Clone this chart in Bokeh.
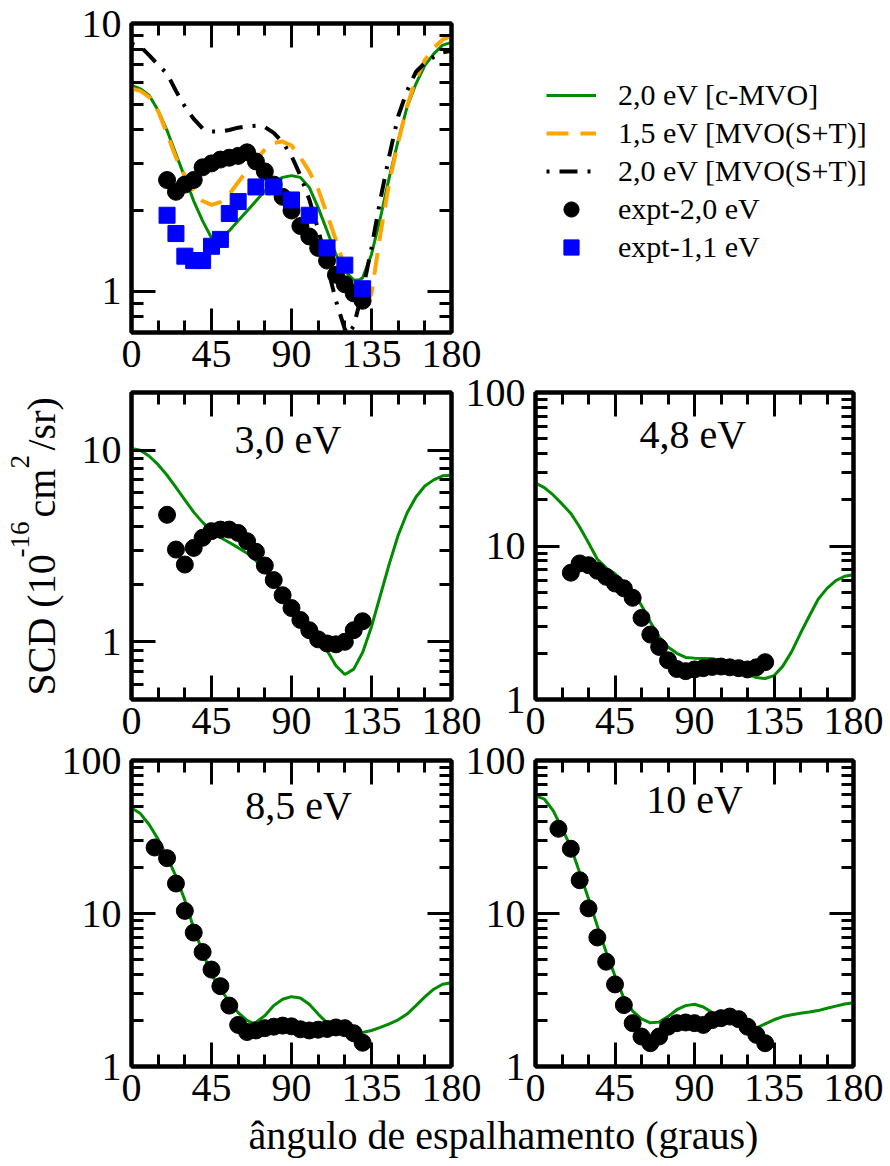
import math
from bokeh.plotting import figure
from bokeh.models import (Range1d, FixedTicker, LinearAxis, LogAxis, BasicTickFormatter,
                          Label, Legend, LegendItem)
from bokeh.embed import file_html
from bokeh.resources import INLINE

# ---------------- data ----------------
x_major = [0, 45, 90, 135, 180]
x_minor = [15, 30, 60, 75, 105, 120, 150, 165]

# top panel (2,0 eV etc.)
ang_top_g = [0, 5, 10, 15, 20, 25, 30, 35, 40, 45, 50, 55, 60, 65, 70, 75, 80, 85, 90, 95, 100,
             105, 110, 115, 120, 125, 128, 130, 135, 140, 145, 150, 155, 160, 165, 170, 175, 180]
top_cmvo_20 = [5.87, 5.7, 5.38, 4.73, 3.98, 3.25, 2.66, 2.17, 1.83, 1.58, 1.56, 1.68, 1.83, 1.99,
               2.17, 2.37, 2.55, 2.66, 2.70, 2.66, 2.44, 2.05, 1.68, 1.37, 1.19, 1.10, 1.10, 1.12,
               1.37, 1.88, 2.66, 3.65, 4.87, 5.95, 6.97, 7.7, 8.3, 8.5]

ang_top_o = [0, 5, 10, 15, 20, 25, 30, 35, 40, 45, 50, 55, 60, 65, 70, 75, 80, 85, 90, 95, 100,
             105, 110, 115, 120, 125, 130, 135, 140, 145, 150, 155, 160, 165, 170, 175, 180]
top_mvo_15 = [5.71, 5.6, 5.31, 4.7, 3.87, 3.16, 2.7, 2.35, 2.17, 2.1, 2.15, 2.3, 2.55, 2.82, 3.1,
              3.38, 3.58, 3.62, 3.5, 3.16, 2.8, 2.4, 1.94, 1.55, 1.22, 0.97, 0.84, 0.98, 1.63,
              2.55, 3.6, 4.9, 6.2, 7.3, 8.1, 8.7, 9.0]

ang_top_k = [0, 5, 10, 15, 20, 25, 30, 35, 40, 45, 50, 55, 60, 65, 70, 75, 80, 85, 90, 95, 100,
             105, 110, 115, 120, 122, 125, 130, 135, 140, 145, 150, 155, 160, 165, 170, 175, 180]
top_mvo_20 = [8.4, 8.2, 7.6, 7.0, 6.5, 5.6, 4.9, 4.4, 4.05, 3.95, 3.95, 4.0, 4.08, 4.13, 4.15,
              4.1, 3.9, 3.6, 3.2, 2.7, 2.2, 1.7, 1.25, 0.92, 0.72, 0.69, 0.74, 1.0, 1.45, 2.2,
              3.2, 4.5, 5.6, 6.6, 7.1, 7.5, 7.8, 7.9]

ang_exp_a = [20, 25, 30, 35, 40, 45, 50, 55, 60, 65, 70, 75, 80, 85, 90, 95, 100, 105, 110, 115,
             120, 125, 130]
top_exp_20 = [2.6, 2.35, 2.5, 2.6, 2.9, 3.0, 3.1, 3.15, 3.2, 3.3, 3.05, 2.8, 2.5, 2.25, 2.0, 1.75,
              1.6, 1.45, 1.3, 1.15, 1.06, 0.98, 0.92]

ang_exp_11 = [20, 25, 30, 35, 40, 45, 50, 55, 60, 70, 80, 90, 100, 110, 120, 130]
top_exp_11 = [1.92, 1.64, 1.35, 1.30, 1.30, 1.47, 1.56, 1.95, 2.16, 2.45, 2.45, 2.19, 1.92, 1.45,
              1.25, 1.02]

# common theory angle grid for lower panels
ang_th = [0, 5, 10, 15, 20, 25, 30, 35, 40, 45, 50, 55, 60, 65, 70, 75, 80, 85, 90, 95, 100, 105,
          110, 115, 120, 125, 130, 135, 140, 145, 150, 155, 160, 165, 170, 175, 180]

th_30 = [10.2, 10.0, 9.3, 8.4, 7.4, 6.4, 5.5, 4.75, 4.2, 3.8, 3.5, 3.3, 3.1, 2.9, 2.65, 2.35, 2.05,
         1.78, 1.55, 1.35, 1.2, 1.05, 0.9, 0.75, 0.675, 0.72, 0.88, 1.2, 1.75, 2.55, 3.6, 4.7,
         5.7, 6.5, 7.0, 7.35, 7.4]
exp_30 = [4.6, 3.03, 2.53, 3.09, 3.49, 3.78, 3.85, 3.85, 3.7, 3.35, 2.95, 2.5, 2.1, 1.75, 1.5,
          1.3, 1.15, 1.03, 0.98, 0.97, 1.0, 1.15, 1.28]

th_48 = [25.7, 24.0, 21.5, 18.8, 16.3, 13.3, 10.5, 8.2, 7.2, 6.6, 5.8, 5.1, 4.1, 3.2, 2.55, 2.2,
         2.0, 1.88, 1.86, 1.85, 1.84, 1.8, 1.73, 1.6, 1.47, 1.39, 1.37, 1.43, 1.65, 2.05, 2.7,
         3.5, 4.5, 5.3, 5.95, 6.35, 6.5]
exp_48 = [6.7, 7.7, 7.5, 6.9, 6.3, 5.7, 5.3, 4.6, 3.4, 2.65, 2.2, 1.8, 1.58, 1.53, 1.57, 1.6,
          1.63, 1.64, 1.62, 1.6, 1.57, 1.62, 1.75]

ang_th_85 = [0, 5, 10, 15, 20, 25, 30, 35, 40, 45, 50, 55, 60, 65, 68, 70, 75, 80, 85, 90, 95,
             100, 105, 110, 115, 120, 125, 130, 135, 140, 145, 150, 155, 160, 165, 170, 175, 180]
th_85 = [49, 45, 38, 30.5, 23.5, 17.5, 12.2, 8.0, 5.6, 4.0, 3.2, 2.65, 2.25, 2.0, 1.92, 1.94,
         2.15, 2.5, 2.75, 2.86, 2.8, 2.55, 2.2, 1.93, 1.78, 1.69, 1.66, 1.67, 1.72, 1.8, 1.9,
         2.02, 2.2, 2.5, 2.85, 3.2, 3.45, 3.53]
ang_exp_b = [13, 20, 25, 30, 35, 40, 45, 50, 55, 60, 65, 70, 75, 80, 85, 90, 95, 100, 105, 110,
             115, 120, 125, 130]
exp_85 = [27, 23, 15.7, 10.4, 7.5, 5.6, 4.3, 3.35, 2.5, 1.87, 1.68, 1.72, 1.78, 1.82, 1.85, 1.83,
          1.75, 1.72, 1.74, 1.76, 1.8, 1.78, 1.65, 1.43]

th_10 = [59, 56, 47, 36, 27.2, 18.5, 12.5, 8.3, 5.6, 3.9, 2.8, 2.3, 2.05, 1.93, 1.95, 2.12, 2.35,
         2.5, 2.55, 2.45, 2.25, 2.08, 2.0, 1.94, 1.86, 1.78, 1.9, 2.02, 2.12, 2.18, 2.23, 2.27,
         2.32, 2.4, 2.48, 2.56, 2.61]
exp_10 = [35.8, 26.5, 16.5, 10.8, 6.97, 4.84, 3.44, 2.52, 1.92, 1.57, 1.42, 1.57, 1.82, 1.92,
          1.94, 1.92, 1.87, 2.01, 2.07, 2.12, 2.04, 1.82, 1.61, 1.42]

legend_labels = ["2,0 eV [c-MVO]", "1,5 eV [MVO(S+T)]", "2,0 eV [MVO(S+T)]",
                 "expt-2,0 eV", "expt-1,1 eV"]
panel_titles = ["3,0 eV", "4,8 eV", "8,5 eV", "10 eV"]
x_title = "ângulo de espalhamento (graus)"
y_title_parts = ["SCD (10", "-16", "cm", "2", "/sr)"]

# ---------------- styling ----------------
W, H = 890, 1166
FONT = "Liberation Serif"
GREEN = "#008b00"
ORANGE = "#ffa500"
BLUE = "#0000ff"
BIG = "40px"
ABS = {"position": "absolute", "left": "0px", "top": "0px"}
NAN = float("nan")


def style_axis(ax, labels=True):
    ax.axis_line_width = 4
    ax.axis_line_color = "black"
    ax.major_tick_in = 24
    ax.major_tick_out = 0
    ax.minor_tick_in = 12
    ax.minor_tick_out = 0
    ax.major_tick_line_width = 3
    ax.minor_tick_line_width = 3
    ax.major_label_text_font = FONT
    if labels:
        ax.major_label_text_color = "black"
        ax.major_label_text_font_size = BIG
    else:
        ax.major_label_text_color = None
        ax.major_label_text_font_size = "1px"
        ax.major_label_standoff = 0


def make_panel(left, top, right, bottom, yr, ymaj, ymin):
    p = figure(width=W, height=H, x_range=Range1d(0, 180), y_range=Range1d(*yr),
               y_axis_type="log", output_backend="svg", toolbar_location=None,
               min_border_left=left, min_border_right=W - right,
               min_border_top=top, min_border_bottom=H - bottom, styles=ABS)
    p.background_fill_color = None
    p.border_fill_color = None
    p.outline_line_color = "black"
    p.outline_line_width = 4
    p.grid.visible = False
    xt = FixedTicker(ticks=x_major, minor_ticks=x_minor)
    yt = FixedTicker(ticks=ymaj, minor_ticks=ymin)
    xa = p.xaxis[0]
    ya = p.yaxis[0]
    xa.ticker = xt
    ya.ticker = yt
    xa.formatter = BasicTickFormatter()
    ya.formatter = BasicTickFormatter()
    style_axis(xa)
    style_axis(ya)
    xa.major_label_standoff = 8
    ya.major_label_standoff = 10
    ta = LinearAxis(ticker=xt)
    style_axis(ta, labels=False)
    p.add_layout(ta, "above")
    ra = LogAxis(ticker=yt)
    style_axis(ra, labels=False)
    p.add_layout(ra, "right")
    return p


def minors(lo_exp, hi_exp):
    out = []
    for e in range(lo_exp, hi_exp):
        for k in range(2, 10):
            out.append(k * 10 ** e)
    return out


def panel_label(p, x, y, text):
    p.add_layout(Label(x=x, y=y, text=text, text_font=FONT, text_font_size=BIG,
                       text_color="black", text_align="center", text_baseline="alphabetic"))


LINE_STYLES = [dict(line_color=GREEN, line_width=3),
               dict(line_color=ORANGE, line_width=4, line_dash="22 12"),
               dict(line_color="black", line_width=4, line_dash="3 10 18 10")]
CIRC = dict(marker="circle", size=17, fill_color="black", line_color="black")
SQR = dict(marker="square", size=16, fill_color=BLUE, line_color=BLUE)

# ---------- top panel ----------
pA = make_panel(131, 23, 451, 332, (0.7, 10), [1, 10], minors(-1, 1))
pA.line(ang_top_g, top_cmvo_20, **LINE_STYLES[0])
pA.line(ang_top_o, top_mvo_15, **LINE_STYLES[1])
pA.line(ang_top_k, top_mvo_20, **LINE_STYLES[2])
pA.scatter(ang_exp_a, top_exp_20, **CIRC)
pA.scatter(ang_exp_11, top_exp_11, **SQR)

# ---------- middle left (3,0 eV) ----------
pB = make_panel(131, 392, 451, 699, (0.5, 20), [1, 10], minors(-1, 2))
pB.line(ang_th, th_30, **LINE_STYLES[0])
pB.scatter(ang_exp_a, exp_30, **CIRC)
panel_label(pB, 88, 11.4, panel_titles[0])

# ---------- middle right (4,8 eV) ----------
pC = make_panel(535, 392, 853, 699, (1, 100), [1, 10, 100], minors(0, 2))
pC.line(ang_th, th_48, **LINE_STYLES[0])
pC.scatter(ang_exp_a, exp_48, **CIRC)
panel_label(pC, 89, 53.3, panel_titles[1])

# ---------- bottom left (8,5 eV) ----------
pD = make_panel(131, 760, 451, 1066, (1, 100), [1, 10, 100], minors(0, 2))
pD.line(ang_th_85, th_85, **LINE_STYLES[0])
pD.scatter(ang_exp_b, exp_85, **CIRC)
panel_label(pD, 94, 50.8, panel_titles[2])

# ---------- bottom right (10 eV) ----------
pE = make_panel(535, 760, 853, 1066, (1, 100), [1, 10, 100], minors(0, 2))
pE.line(ang_th, th_10, **LINE_STYLES[0])
pE.scatter(ang_exp_b, exp_10, **CIRC)
panel_label(pE, 90, 55.6, panel_titles[3])

# ---------- full-page overlay for titles and legend ----------
ov = figure(width=W, height=H, x_range=Range1d(0, W), y_range=Range1d(0, H),
            output_backend="svg", toolbar_location=None, min_border=0,
            x_axis_location=None, y_axis_location=None, styles=ABS)
ov.background_fill_color = None
ov.border_fill_color = None
ov.outline_line_color = None
ov.grid.visible = False

# legend proxies (styled like the top-panel marks; a single NaN point draws nothing)
lg = [ov.line([NAN], [NAN], **LINE_STYLES[0]), ov.line([NAN], [NAN], **LINE_STYLES[1]),
      ov.line([NAN], [NAN], **LINE_STYLES[2]), ov.scatter([NAN], [NAN], **CIRC),
      ov.scatter([NAN], [NAN], **SQR)]
legend = Legend(items=[LegendItem(label=l, renderers=[r]) for l, r in zip(legend_labels, lg)],
                location=(546, H - 266))
legend.label_text_font = FONT
legend.label_text_font_size = "30px"
legend.label_text_color = "black"
legend.glyph_width = 50
legend.glyph_height = 38
legend.label_height = 38
legend.label_standoff = 22
legend.spacing = 0
legend.padding = 0
legend.margin = 0
legend.border_line_alpha = 0
legend.background_fill_alpha = 0
ov.add_layout(legend)

# y axis title (rotated pieces, page coordinates)
ypos = [(41, 695, BIG), (19, 557, "27px"), (41, 517, BIG), (19, 468, "27px"), (41, 450, BIG)]
for t, (xx, yy, fs) in zip(y_title_parts, ypos):
    ov.add_layout(Label(x=xx, y=H - yy, text=t, text_font=FONT, text_font_size=fs,
                        text_color="black", angle=math.pi / 2,
                        text_align="left", text_baseline="alphabetic"))
# x axis title
ov.add_layout(Label(x=503, y=H - 1135, text=x_title, text_font=FONT, text_font_size=BIG,
                    text_color="black", text_align="center", text_baseline="alphabetic"))

p = [pA, pB, pC, pD, pE, ov]
open("out.html", "w").write(file_html(p, INLINE))
